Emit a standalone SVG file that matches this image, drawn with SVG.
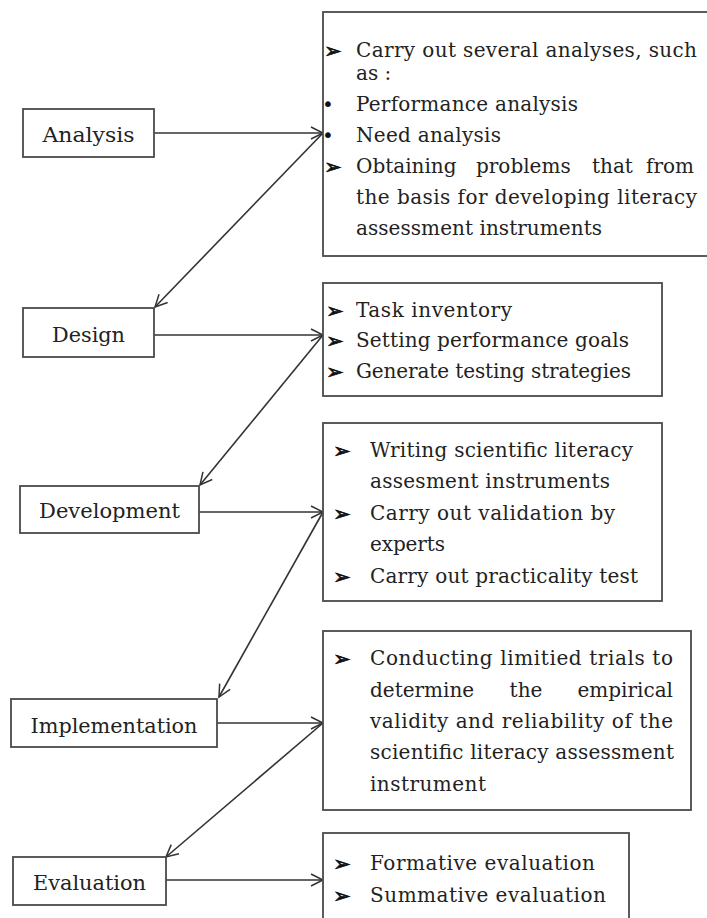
<svg xmlns="http://www.w3.org/2000/svg" width="707" height="918" viewBox="0 0 707 918">
<defs>
<style>
.box{fill:#fff;stroke:#4a4a4a;stroke-width:1.8}
.lbl{font-family:"DejaVu Serif","Liberation Serif",serif;font-size:21px;fill:#222;text-anchor:middle}
.t{font-family:"DejaVu Serif","Liberation Serif",serif;font-size:20px;fill:#222}
.b{font-family:"DejaVu Sans","Noto Sans",sans-serif;font-size:21px;fill:#111;stroke:#111;stroke-width:0.7}
.d{font-family:"DejaVu Sans","Noto Sans",sans-serif;font-size:20px;fill:#111}
.c{fill:none;stroke:#333;stroke-width:1.6}
</style>
<marker id="arr" markerWidth="16" markerHeight="16" refX="14" refY="8" orient="auto" markerUnits="userSpaceOnUse">
<path d="M2,2 L14,8 L2,14" fill="none" stroke="#333" stroke-width="1.5"/>
</marker>
</defs>
<rect width="707" height="918" fill="#fff"/>

<g id="connectors">
<line class="c" x1="154" y1="133" x2="323" y2="133" marker-end="url(#arr)"/>
<line class="c" x1="323" y1="133" x2="155" y2="307" marker-end="url(#arr)"/>
<line class="c" x1="154" y1="335" x2="323" y2="335" marker-end="url(#arr)"/>
<line class="c" x1="323" y1="335" x2="200" y2="485" marker-end="url(#arr)"/>
<line class="c" x1="199" y1="512" x2="323" y2="512" marker-end="url(#arr)"/>
<line class="c" x1="323" y1="512" x2="219" y2="697" marker-end="url(#arr)"/>
<line class="c" x1="217" y1="723" x2="323" y2="723" marker-end="url(#arr)"/>
<line class="c" x1="323" y1="723" x2="166" y2="857" marker-end="url(#arr)"/>
<line class="c" x1="166" y1="880" x2="323" y2="880" marker-end="url(#arr)"/>
</g>

<g id="analysis">
<rect class="box" x="23" y="109" width="131" height="48"/>
<text class="lbl" x="88.5" y="142" textLength="92" lengthAdjust="spacingAndGlyphs">Analysis</text>
</g>

<g id="analysis-details">
<rect class="box" x="323" y="12" width="395" height="244"/>
<text class="b" x="324" y="58">➢</text>
<text class="t" x="356" y="57" textLength="341" lengthAdjust="spacing">Carry out several analyses, such</text>
<text class="t" x="356" y="80">as :</text>
<text class="d" x="322" y="111">•</text>
<text class="t" x="356" y="111" textLength="222" lengthAdjust="spacing">Performance analysis</text>
<text class="d" x="322" y="142">•</text>
<text class="t" x="356" y="142" textLength="145" lengthAdjust="spacing">Need analysis</text>
<text class="b" x="324" y="174">➢</text>
<text class="t" x="356" y="173">Obtaining</text>
<text class="t" x="476" y="173">problems</text>
<text class="t" x="592" y="173">that</text>
<text class="t" x="694" y="173" text-anchor="end">from</text>
<text class="t" x="356" y="204" textLength="341" lengthAdjust="spacing">the basis for developing literacy</text>
<text class="t" x="356" y="235" textLength="246" lengthAdjust="spacing">assessment instruments</text>
</g>

<g id="design">
<rect class="box" x="23" y="308" width="131" height="49"/>
<text class="lbl" x="88.5" y="342" textLength="73" lengthAdjust="spacingAndGlyphs">Design</text>
</g>

<g id="design-details">
<rect class="box" x="323" y="283" width="339" height="113"/>
<text class="b" x="326" y="318">➢</text>
<text class="t" x="356" y="317" textLength="156" lengthAdjust="spacing">Task inventory</text>
<text class="b" x="326" y="348">➢</text>
<text class="t" x="356" y="347" textLength="273" lengthAdjust="spacing">Setting performance goals</text>
<text class="b" x="326" y="379">➢</text>
<text class="t" x="356" y="378" textLength="275" lengthAdjust="spacing">Generate testing strategies</text>
</g>

<g id="development">
<rect class="box" x="20" y="486" width="179" height="47"/>
<text class="lbl" x="109.5" y="518" textLength="141" lengthAdjust="spacingAndGlyphs">Development</text>
</g>

<g id="development-details">
<rect class="box" x="323" y="423" width="339" height="178"/>
<text class="b" x="333" y="458">➢</text>
<text class="t" x="370" y="457" textLength="263" lengthAdjust="spacing">Writing scientific literacy</text>
<text class="t" x="370" y="488" textLength="240" lengthAdjust="spacing">assesment instruments</text>
<text class="b" x="333" y="521">➢</text>
<text class="t" x="370" y="520" textLength="245" lengthAdjust="spacing">Carry out validation by</text>
<text class="t" x="370" y="551" textLength="75" lengthAdjust="spacing">experts</text>
<text class="b" x="333" y="584">➢</text>
<text class="t" x="370" y="583" textLength="268" lengthAdjust="spacing">Carry out practicality test</text>
</g>

<g id="implementation">
<rect class="box" x="11" y="699" width="206" height="48"/>
<text class="lbl" x="114" y="733" textLength="167" lengthAdjust="spacingAndGlyphs">Implementation</text>
</g>

<g id="implementation-details">
<rect class="box" x="323" y="631" width="368" height="179"/>
<text class="b" x="333" y="666">➢</text>
<text class="t" x="370" y="665" textLength="303" lengthAdjust="spacing">Conducting limitied trials to</text>
<text class="t" x="370" y="697">determine</text>
<text class="t" x="526" y="697" text-anchor="middle">the</text>
<text class="t" x="673" y="697" text-anchor="end">empirical</text>
<text class="t" x="370" y="728" textLength="303" lengthAdjust="spacing">validity and reliability of the</text>
<text class="t" x="370" y="759" textLength="304" lengthAdjust="spacing">scientific literacy assessment</text>
<text class="t" x="370" y="791" textLength="116" lengthAdjust="spacing">instrument</text>
</g>

<g id="evaluation">
<rect class="box" x="13" y="857" width="153" height="48"/>
<text class="lbl" x="89.5" y="890" textLength="113" lengthAdjust="spacingAndGlyphs">Evaluation</text>
</g>

<g id="evaluation-details">
<rect class="box" x="323" y="833" width="306" height="100"/>
<text class="b" x="333" y="871">➢</text>
<text class="t" x="370" y="870" textLength="225" lengthAdjust="spacing">Formative evaluation</text>
<text class="b" x="333" y="903">➢</text>
<text class="t" x="370" y="902" textLength="236" lengthAdjust="spacing">Summative evaluation</text>
</g>
</svg>
